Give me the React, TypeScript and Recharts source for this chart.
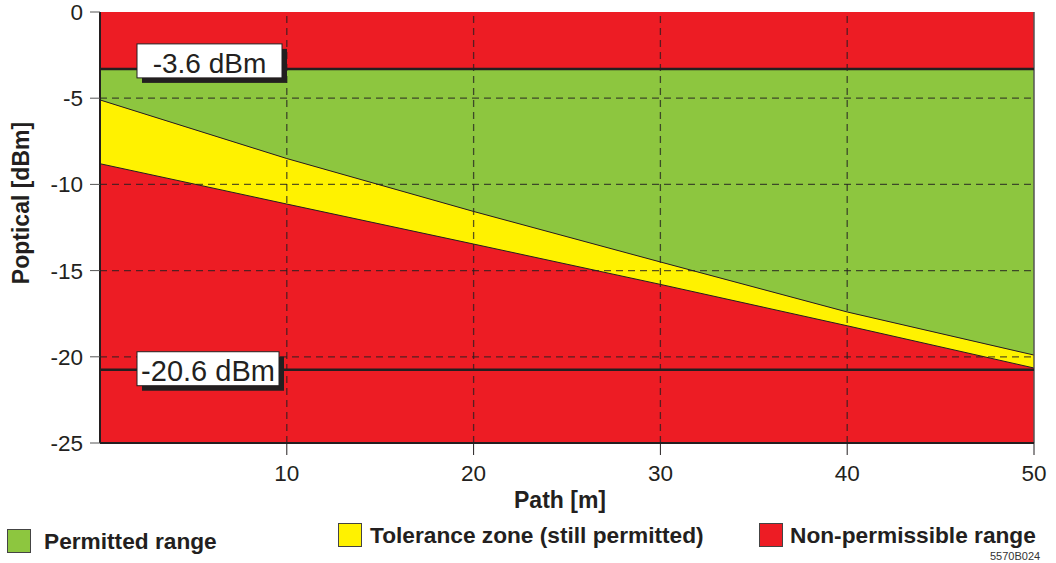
import React from "react";
import {
  ComposedChart,
  Area,
  Line,
  XAxis,
  YAxis,
  CartesianGrid,
  ReferenceLine,
} from "recharts";

// ---- data ----
const pathM = [0, 10, 20, 30, 40, 50];
const upperLimitDbm = [-5.1, -8.5, -11.57, -14.5, -17.4, -19.9];
const lowerLimitDbm = [-8.8, -11.14, -13.46, -15.8, -18.2, -20.65];
const maxPowerLine = -3.3;
const minPowerLine = -20.75;
const maxPowerLabel = "-3.6 dBm";
const minPowerLabel = "-20.6 dBm";
const xTicks = [10, 20, 30, 40, 50];
const yTicks = [0, -5, -10, -15, -20, -25];
const xGridValues = [10, 20, 30, 40];
const yGridValues = [-5, -10, -15, -20];
const legendLabels = [
  "Permitted range",
  "Tolerance zone (still permitted)",
  "Non-permissible range",
];
const docNumber = "5570B024";

// ---- styles ----
const RED = "#ED1C24";
const GREEN = "#8DC63F";
const YELLOW = "#FFF200";
const INK = "#231F20";
const FONT = "'Liberation Sans', Arial, Helvetica, sans-serif";

const data = pathM.map((x, i) => ({
  x,
  permitted: [upperLimitDbm[i], maxPowerLine],
  tolerance: [lowerLimitDbm[i], upperLimitDbm[i]],
  upper: upperLimitDbm[i],
  lower: lowerLimitDbm[i],
}));

const BoxLabel = (props: any) => {
  const { viewBox, text, dx, dy, w, h, textDy, fontSize } = props;
  const bx = viewBox.x + dx;
  const by = viewBox.y + dy;
  return (
    <g>
      <rect x={bx + 5} y={by + 5} width={w} height={h} fill={INK} />
      <rect x={bx} y={by} width={w} height={h} fill="#fff" stroke={INK} strokeWidth={1} />
      <text
        x={bx + w / 2}
        y={by + h / 2 + textDy}
        textAnchor="middle"
        dominantBaseline="central"
        fontSize={fontSize}
        fontFamily={FONT}
        fill={INK}
      >
        {text}
      </text>
    </g>
  );
};

const XTitle = (props: any) => {
  const { viewBox } = props;
  return (
    <text
      x={viewBox.x + viewBox.width / 2 - 7}
      y={viewBox.y + 57}
      textAnchor="middle"
      dominantBaseline="central"
      fontSize={23}
      fontWeight="bold"
      fontFamily={FONT}
      fill={INK}
    >
      Path [m]
    </text>
  );
};

const YTitle = (props: any) => {
  const { viewBox } = props;
  const cx = 21;
  const cy = viewBox.y + 191;
  return (
    <text
      x={cx}
      y={cy}
      transform={`rotate(-90 ${cx} ${cy})`}
      textAnchor="middle"
      dominantBaseline="central"
      fontSize={23}
      fontWeight="bold"
      fontFamily={FONT}
      fill={INK}
    >
      Poptical [dBm]
    </text>
  );
};

const legendColors = [GREEN, YELLOW, RED];
const legendPos = [
  { sx: 7, sy: 529, tx: 44, ty: 541 },
  { sx: 338, sy: 523, tx: 370, ty: 535 },
  { sx: 759, sy: 523, tx: 790, ty: 535 },
];

export default function App() {
  return (
    <div
      style={{
        position: "absolute",
        left: 0,
        top: 0,
        width: 1056,
        height: 563,
        overflow: "hidden",
        background: "#fff",
        fontFamily: FONT,
      }}
    >
      <ComposedChart
        width={1056}
        height={563}
        data={data}
        margin={{ top: 12, right: 22, bottom: 60, left: 0 }}
      >
        <CartesianGrid fill={RED} fillOpacity={1} horizontal={false} vertical={false} />
        <XAxis
          dataKey="x"
          type="number"
          domain={[0, 50]}
          ticks={xTicks}
          interval={0}
          height={60}
          tickSize={12}
          tickMargin={10}
          axisLine={{ stroke: INK, strokeWidth: 2 }}
          tickLine={{ stroke: INK, strokeWidth: 1 }}
          tick={{ fontSize: 22.5, fill: INK, fontFamily: FONT }}
          label={<XTitle />}
        />
        <YAxis
          type="number"
          domain={[-25, 0]}
          ticks={yTicks}
          interval={0}
          width={100}
          tickSize={10}
          tickMargin={7}
          axisLine={{ stroke: INK, strokeWidth: 2 }}
          tickLine={{ stroke: "#555", strokeWidth: 1 }}
          tick={{ fontSize: 22.5, fill: INK, fontFamily: FONT }}
          label={<YTitle />}
        />
        <Area
          dataKey="permitted"
          type="linear"
          fill={GREEN}
          fillOpacity={1}
          stroke="none"
          isAnimationActive={false}
          dot={false}
          activeDot={false}
        />
        <Area
          dataKey="tolerance"
          type="linear"
          fill={YELLOW}
          fillOpacity={1}
          stroke="none"
          isAnimationActive={false}
          dot={false}
          activeDot={false}
        />
        <Line dataKey="upper" type="linear" stroke={INK} strokeWidth={1} dot={false} activeDot={false} isAnimationActive={false} />
        <Line dataKey="lower" type="linear" stroke={INK} strokeWidth={1} dot={false} activeDot={false} isAnimationActive={false} />
        {xGridValues.map((v) => (
          <ReferenceLine key={`gx${v}`} x={v} stroke={INK} strokeOpacity={0.75} strokeWidth={1.3} strokeDasharray="7 5" />
        ))}
        {yGridValues.map((v) => (
          <ReferenceLine key={`gy${v}`} y={v} stroke={INK} strokeOpacity={0.75} strokeWidth={1.3} strokeDasharray="7 5" />
        ))}
        <ReferenceLine x={50} stroke="#555" strokeWidth={1.5} />
        <ReferenceLine
          y={maxPowerLine}
          stroke={INK}
          strokeWidth={2.5}
          label={<BoxLabel text={maxPowerLabel} dx={37} dy={-25} w={145} h={34} textDy={3} fontSize={28} />}
        />
        <ReferenceLine
          y={minPowerLine}
          stroke={INK}
          strokeWidth={2.5}
          label={<BoxLabel text={minPowerLabel} dx={37} dy={-18} w={142} h={34} textDy={2} fontSize={29} />}
        />
      </ComposedChart>
      {legendLabels.map((label, i) => (
        <React.Fragment key={label}>
          <div
            style={{
              position: "absolute",
              left: legendPos[i].sx,
              top: legendPos[i].sy,
              width: 22,
              height: 22,
              background: legendColors[i],
              border: "1px solid #444",
            }}
          />
          <div
            style={{
              position: "absolute",
              left: legendPos[i].tx,
              top: legendPos[i].ty - 13,
              height: 26,
              lineHeight: "26px",
              fontSize: 22.7,
              fontWeight: "bold",
              color: INK,
              whiteSpace: "nowrap",
            }}
          >
            {label}
          </div>
        </React.Fragment>
      ))}
      <div
        style={{
          position: "absolute",
          left: 990,
          top: 550,
          fontSize: 11,
          lineHeight: "12px",
          color: "#333",
          whiteSpace: "nowrap",
        }}
      >
        {docNumber}
      </div>
    </div>
  );
}
